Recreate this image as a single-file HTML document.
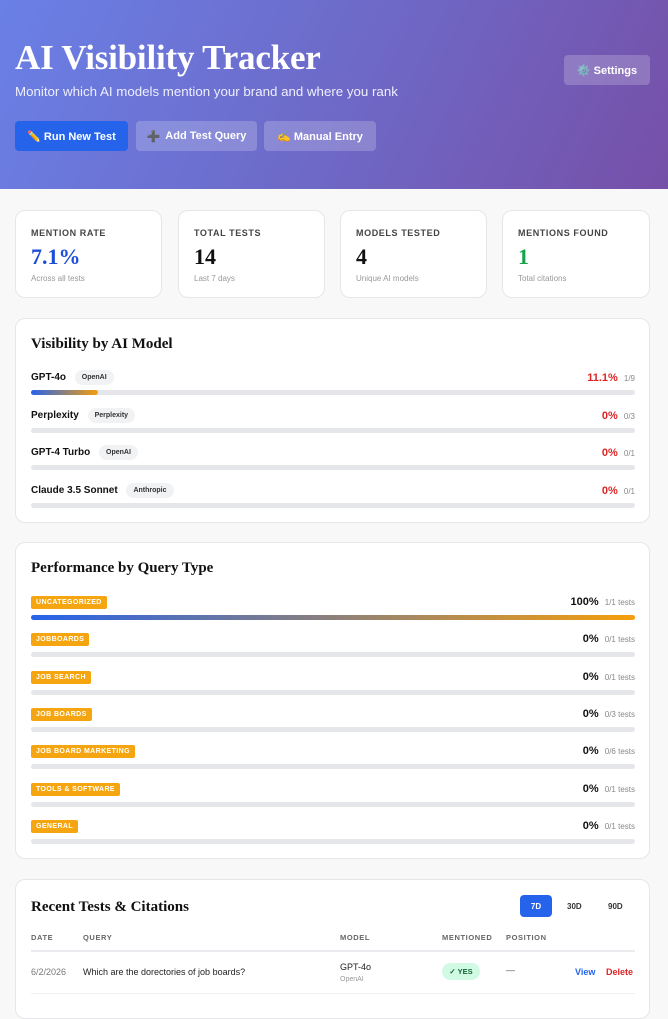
<!DOCTYPE html>
<html><head><meta charset="utf-8"><style>
*{box-sizing:border-box;margin:0;padding:0}
body{width:668px;height:1000px;overflow:hidden;background:#f8f8f9;font-family:"Liberation Sans",sans-serif;position:relative;color:#111}
.abs{position:absolute}
.hdr{left:0;top:0;width:668px;height:189px;background:linear-gradient(115deg,#6a80e6 0%,#6d6ccb 45%,#7650a8 100%)}
.title{left:15px;top:38px;font:bold 35px "Liberation Serif",serif;color:#fff;letter-spacing:-0.2px}
.sub{left:15px;top:84px;font-size:13.3px;color:#eef}
.btn{height:30px;border-radius:4px;color:#fff;font-size:11px;font-weight:bold;display:flex;align-items:center;justify-content:center;gap:5px}
.ghost{background:rgba(255,255,255,.2)}
.card{background:#fff;border:1px solid #e6e6ea;border-radius:10px}
.lab{font-size:9px;font-weight:bold;letter-spacing:.6px;color:#444}
.val{font:bold 22px "Liberation Serif",serif}
.small{font-size:8px;color:#999}
.h2{font:bold 15px "Liberation Serif",serif;color:#111}
.track{height:5px;border-radius:3px;background:#e5e6ea}
.tag{font-size:7px;background:#f1f2f4;border-radius:9px;padding:4px 7px;color:#333;font-weight:bold;vertical-align:1px}
.qb{font-size:7px;font-weight:bold;color:#fff;background:#f5a50f;border-radius:2px;padding:3px 5px;letter-spacing:.4px}
.th{font-size:7.5px;font-weight:bold;letter-spacing:.6px;color:#666;top:933px}
</style></head><body>
<div class="abs hdr"></div>
<div class="abs title">AI Visibility Tracker</div>
<div class="abs sub">Monitor which AI models mention your brand and where you rank</div>
<div class="abs btn" style="left:15px;top:121px;width:113px;background:#2563eb">✏️ Run New Test</div>
<div class="abs btn ghost" style="left:136px;top:121px;width:121px"><span style="color:#a58ae0">➕</span> Add Test Query</div>
<div class="abs btn ghost" style="left:264px;top:121px;width:112px">✍️ Manual Entry</div>
<div class="abs btn ghost" style="left:564px;top:55px;width:86px">⚙️ Settings</div>

<div class="abs card" style="left:15px;top:210px;width:147px;height:88px">
<div class="abs lab" style="left:15px;top:17px">MENTION RATE</div><div class="abs val" style="left:15px;top:33px;color:#1d4ed8">7.1%</div><div class="abs small" style="left:15px;top:63px">Across all tests</div></div>
<div class="abs card" style="left:178px;top:210px;width:147px;height:88px">
<div class="abs lab" style="left:15px;top:17px">TOTAL TESTS</div><div class="abs val" style="left:15px;top:33px">14</div><div class="abs small" style="left:15px;top:63px">Last 7 days</div></div>
<div class="abs card" style="left:340px;top:210px;width:147px;height:88px">
<div class="abs lab" style="left:15px;top:17px">MODELS TESTED</div><div class="abs val" style="left:15px;top:33px">4</div><div class="abs small" style="left:15px;top:63px">Unique AI models</div></div>
<div class="abs card" style="left:502px;top:210px;width:148px;height:88px">
<div class="abs lab" style="left:15px;top:17px">MENTIONS FOUND</div><div class="abs val" style="left:15px;top:33px;color:#16a34a">1</div><div class="abs small" style="left:15px;top:63px">Total citations</div></div>

<div class="abs card" id="modelCard" style="left:15px;top:318px;width:635px;height:205px">
<div class="abs h2" style="left:15px;top:17px">Visibility by AI Model</div></div>

<div class="abs card" id="queryCard" style="left:15px;top:542px;width:635px;height:317px">
<div class="abs h2" style="left:15px;top:17px">Performance by Query Type</div></div>

<div class="abs card" style="left:15px;top:879px;width:635px;height:140px">
<div class="abs h2" style="left:15px;top:19px">Recent Tests &amp; Citations</div>
<div class="abs" style="left:504px;top:15px;width:32px;height:22px;background:#2563eb;border-radius:4px;color:#fff;font-size:8px;font-weight:bold;display:flex;align-items:center;justify-content:center">7D</div>
<div class="abs" style="left:551px;top:22px;font-size:8px;font-weight:bold;color:#333">30D</div>
<div class="abs" style="left:592px;top:22px;font-size:8px;font-weight:bold;color:#333">90D</div>
<div class="abs" style="left:15px;top:70px;width:604px;height:2px;background:#ebebef"></div>
<div class="abs" style="left:15px;top:113px;width:604px;height:1px;background:#f0f0f2"></div>
</div>
<div class="abs th" style="left:31px">DATE</div>
<div class="abs th" style="left:83px">QUERY</div>
<div class="abs th" style="left:340px">MODEL</div>
<div class="abs th" style="left:442px">MENTIONED</div>
<div class="abs th" style="left:506px">POSITION</div>
<div class="abs" style="left:31px;top:967px;font-size:9px;color:#777">6/2/2026</div>
<div class="abs" style="left:83px;top:967px;font-size:9px;color:#222">Which are the dorectories of job boards?</div>
<div class="abs" style="left:340px;top:962px;font-size:9px;color:#222">GPT-4o</div>
<div class="abs" style="left:340px;top:976px;font-size:7px;color:#999">OpenAI</div>
<div class="abs" style="left:442px;top:963px;width:38px;height:17px;border-radius:9px;background:#d1fae5;color:#166534;font-size:7.5px;font-weight:bold;display:flex;align-items:center;justify-content:center">✓ YES</div>
<div class="abs" style="left:506px;top:965px;font-size:9px;color:#555">—</div>
<div class="abs" style="left:575px;top:967px;font-size:9px;font-weight:bold;color:#2563eb">View</div>
<div class="abs" style="left:606px;top:967px;font-size:9px;font-weight:bold;color:#dc2626">Delete</div>

<script>
const modelNames=["GPT-4o","Perplexity","GPT-4 Turbo","Claude 3.5 Sonnet"];
const modelProviders=["OpenAI","Perplexity","OpenAI","Anthropic"];
const modelMentions=[1,0,0,0];
const modelTests=[9,3,1,1];
const queryTypes=["UNCATEGORIZED","JOBBOARDS","JOB SEARCH","JOB BOARDS","JOB BOARD MARKETING","TOOLS & SOFTWARE","GENERAL"];
const queryMentions=[1,0,0,0,0,0,0];
const queryTests=[1,1,1,3,6,1,1];

const barW=604;
function xScale(frac){return frac*barW;}
function pct(m,t){const p=t?m/t*100:0;return (p%1===0?p.toFixed(0):p.toFixed(1))+"%";}

const mc=document.getElementById('modelCard');
modelNames.forEach((n,i)=>{
  const y=50+i*37.5;
  const row=document.createElement('div');
  row.className='abs';row.style.cssText=`left:15px;top:${y}px;width:${barW}px;height:30px`;
  
  
  row.innerHTML=`<div class="abs" style="left:0;top:3px;font-size:10px;font-weight:bold">${n} <span class="tag" style="margin-left:6px">${modelProviders[i]}</span></div>
  <div class="abs" style="right:0;top:3px;font-size:11px;font-weight:bold;color:#dc2626">${pct(modelMentions[i],modelTests[i])} <span style="font-size:8px;color:#888;font-weight:normal;margin-left:3px">${modelMentions[i]}/${modelTests[i]}</span></div>
  <div class="abs track" style="left:0;top:21px;width:${barW}px"></div>`;
  const f=document.createElement('div');
  f.className='abs';f.style.cssText=`left:0;top:21px;height:5px;border-radius:3px;width:${xScale(modelMentions[i]/modelTests[i])}px;background:linear-gradient(90deg,#2563eb,#f59e0b)`;
  
  
  row.appendChild(f);mc.appendChild(row);
});
const qc=document.getElementById('queryCard');
queryTypes.forEach((n,i)=>{
  const y=53+i*37.3;
  const row=document.createElement('div');
  row.className='abs';row.style.cssText=`left:15px;top:${y}px;width:${barW}px;height:30px`;
  
  
  row.innerHTML=`<div class="abs" style="left:0;top:-5px"><span class="qb">${n.replace('&','&amp;')}</span></div>
  <div class="abs" style="right:0;top:0;font-size:11px;font-weight:bold;color:#111">${pct(queryMentions[i],queryTests[i])} <span style="font-size:8px;color:#888;font-weight:normal;margin-left:3px">${queryMentions[i]}/${queryTests[i]} tests</span></div>
  <div class="abs track" style="left:0;top:19px;width:${barW}px"></div>`;
  const f=document.createElement('div');
  f.className='abs';f.style.cssText=`left:0;top:19px;height:5px;border-radius:3px;width:${xScale(queryMentions[i]/queryTests[i])}px;background:linear-gradient(90deg,#2563eb,#f59e0b)`;
  
  
  row.appendChild(f);qc.appendChild(row);
});
</script>
</body></html>
